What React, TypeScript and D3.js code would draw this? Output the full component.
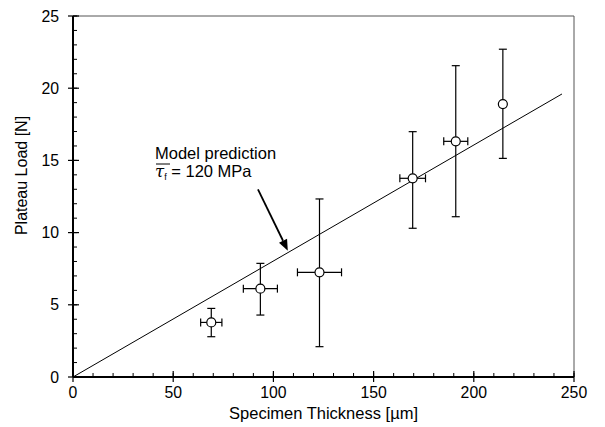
import React from "react";
import * as d3 from "d3";

const thickness = [69, 93.5, 123, 169.5, 191, 214.5];
const thicknessErr = [5.3, 8.5, 11, 6.4, 6, 0];
const load = [3.78, 6.12, 7.25, 13.76, 16.32, 18.9];
const loadLow = [2.79, 4.29, 2.1, 10.3, 11.1, 15.14];
const loadHigh = [4.75, 7.87, 12.33, 16.99, 21.56, 22.7];

const modelX = [0, 244];
const modelY = [0, 19.6];

const xMajor = [0, 50, 100, 150, 200, 250];
const yMajor = [0, 5, 10, 15, 20, 25];
const xMinor = d3.range(0, 251, 10);
const yMinor = d3.range(0, 26, 1);

const W = 605;
const H = 427;
const L = 73, R = 574, T = 16, B = 377;
const FONT = "'Liberation Sans', Arial, Helvetica, sans-serif";

export default function App() {
  const x = d3.scaleLinear().domain([0, 250]).range([L, R]);
  const y = d3.scaleLinear().domain([0, 25]).range([B, T]);
  const line = d3.line<number>().x((_, i) => x(modelX[i])).y((d) => y(d));
  const cap = 4;

  // annotation arrow (data coords)
  const arrowFrom = [92.3, 13.0];
  const arrowTo = [107.2, 8.75];
  const ax1 = x(arrowFrom[0]), ay1 = y(arrowFrom[1]);
  const ax2 = x(arrowTo[0]), ay2 = y(arrowTo[1]);
  const ang = Math.atan2(ay2 - ay1, ax2 - ax1);
  const hl = 11, hw = 4.5;
  const bx = ax2 - hl * Math.cos(ang), by = ay2 - hl * Math.sin(ang);
  const head = [
    [ax2, ay2],
    [bx + hw * Math.sin(ang), by - hw * Math.cos(ang)],
    [bx - hw * Math.sin(ang), by + hw * Math.cos(ang)],
  ];

  return (
    <svg width={W} height={H} style={{ position: "absolute", left: 0, top: 0, background: "#fff" }} fontFamily={FONT}>
      <rect x={0} y={0} width={W} height={H} fill="#fff" />
      {/* frame top/right */}
      <line x1={L} y1={T} x2={R} y2={T} stroke="#555" strokeWidth={1} />
      <line x1={R} y1={T} x2={R} y2={B} stroke="#555" strokeWidth={1} />

      {/* minor ticks */}
      {xMinor.map((v) => (
        <line key={"xm" + v} x1={x(v)} x2={x(v)} y1={B} y2={B - 4} stroke="#000" strokeWidth={1} />
      ))}
      {yMinor.map((v) => (
        <line key={"ym" + v} x1={L} x2={L + 4} y1={y(v)} y2={y(v)} stroke="#000" strokeWidth={1} />
      ))}
      {/* major ticks */}
      {xMajor.map((v) => (
        <line key={"xM" + v} x1={x(v)} x2={x(v)} y1={B + 5} y2={B - 6} stroke="#000" strokeWidth={1.2} />
      ))}
      {yMajor.map((v) => (
        <line key={"yM" + v} x1={L - 5} x2={L + 6} y1={y(v)} y2={y(v)} stroke="#000" strokeWidth={1.2} />
      ))}

      {/* axes */}
      <line x1={L} y1={T} x2={L} y2={B} stroke="#000" strokeWidth={2} />
      <line x1={L} y1={B} x2={R} y2={B} stroke="#000" strokeWidth={2} />

      {/* tick labels */}
      {xMajor.map((v) => (
        <text key={"xl" + v} x={x(v)} y={B + 21} fontSize={15.8} textAnchor="middle" fill="#000">{v}</text>
      ))}
      {yMajor.map((v) => (
        <text key={"yl" + v} x={L - 14} y={y(v) + 5.5} fontSize={15.8} textAnchor="end" fill="#000">{v}</text>
      ))}

      {/* axis titles */}
      <text x={(L + R) / 2} y={419} fontSize={16.5} textAnchor="middle" fill="#000">Specimen Thickness [µm]</text>
      <text transform={`translate(27, ${(T + B) / 2 - 21}) rotate(-90)`} fontSize={16} textAnchor="middle" fill="#000">Plateau Load [N]</text>

      {/* model line */}
      <path d={line(modelY) || ""} fill="none" stroke="#000" strokeWidth={1} />

      {/* error bars and points */}
      {thickness.map((t, i) => {
        const cx = x(t), cy = y(load[i]);
        const yl = y(loadLow[i]), yh = y(loadHigh[i]);
        const xl = x(t - thicknessErr[i]), xh = x(t + thicknessErr[i]);
        return (
          <g key={"p" + i} stroke="#000" strokeWidth={1.2} fill="none">
            <line x1={cx} x2={cx} y1={yl} y2={yh} />
            <line x1={cx - cap} x2={cx + cap} y1={yl} y2={yl} />
            <line x1={cx - cap} x2={cx + cap} y1={yh} y2={yh} />
            {thicknessErr[i] > 0 && (
              <>
                <line x1={xl} x2={xh} y1={cy} y2={cy} />
                <line x1={xl} x2={xl} y1={cy - cap} y2={cy + cap} />
                <line x1={xh} x2={xh} y1={cy - cap} y2={cy + cap} />
              </>
            )}
            <circle cx={cx} cy={cy} r={4.5} fill="#fff" />
          </g>
        );
      })}

      {/* annotation */}
      <text x={155} y={159} fontSize={16.5} fill="#000">Model prediction</text>
      <text x={155} y={177} fontSize={16.5} fill="#000">
        <tspan fontStyle="italic" fontFamily="'DejaVu Serif', serif">τ</tspan>
        <tspan fontSize={9} dy={3}>f</tspan>
        <tspan dy={-3}>{"  = 120 MPa"}</tspan>
      </text>
      <line x1={156} x2={170} y1={164} y2={164} stroke="#000" strokeWidth={1} />
      <line x1={ax1} y1={ay1} x2={bx} y2={by} stroke="#000" strokeWidth={1.8} />
      <polygon points={head.map((p) => p.join(",")).join(" ")} fill="#000" />
    </svg>
  );
}
